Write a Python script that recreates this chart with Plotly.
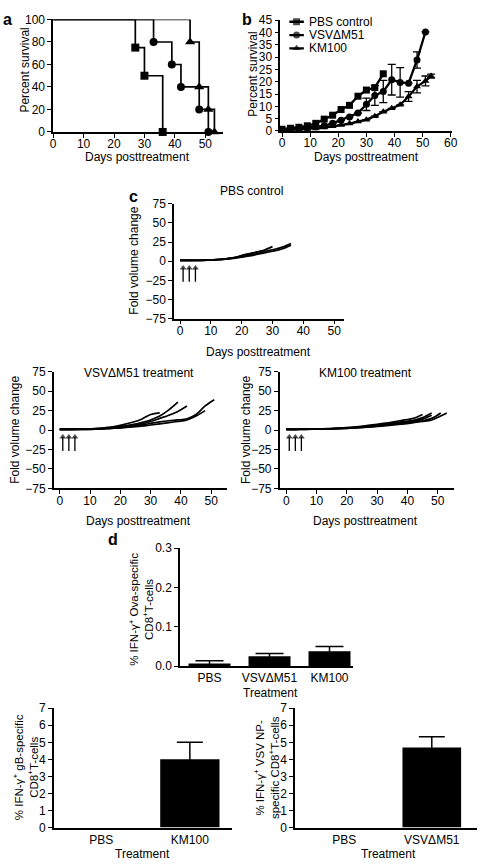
import plotly.graph_objects as go

W, H = 484, 868
FONT = "Liberation Sans, Arial, sans-serif"

# ---------------- data ----------------
# panel a: Kaplan-Meier survival
A_PBS_DAYS = [0, 27, 30, 36]
A_PBS_SURV = [100, 75, 50, 0]
A_VSV_DAYS = [0, 33, 39, 42, 48, 51]
A_VSV_SURV = [100, 80, 60, 40, 20, 0]
A_KM_DAYS = [0, 45, 48, 51, 53]
A_KM_SURV = [100, 80, 40, 20, 0]

# panel b: mean tumour growth
B_NAMES = ["PBS control", "VSVΔM51", "KM100"]
B_PBS_DAYS = [0, 3, 6, 9, 12, 15, 18, 21, 24, 27, 30, 33, 36]
B_PBS_VAL = [0.7, 1.1, 1.5, 2.1, 3.1, 4.8, 6.4, 8.7, 10.4, 14.1, 16.6, 17.6, 23.2]
B_VSV_DAYS = [0, 3, 6, 9, 12, 15, 18, 21, 24, 27, 30, 33, 36, 39, 42, 45, 48, 51]
B_VSV_VAL = [0.5, 0.8, 1.1, 1.3, 1.7, 2.1, 3.1, 4.4, 5.7, 7.3, 10.8, 14.4, 16.0, 20.8, 19.7, 19.4, 28.8, 40.2]
B_VSV_ERR = [0, 0, 0, 0, 0, 0, 0, 0, 0, 0, 2.5, 4.0, 4.5, 6.2, 6.0, 0, 3.3, 0]
B_KM_DAYS = [0, 3, 6, 9, 12, 15, 18, 21, 24, 27, 30, 33, 36, 39, 42, 45, 48, 51, 53]
B_KM_VAL = [0.3, 0.5, 0.6, 0.8, 1.0, 1.4, 1.9, 2.4, 3.0, 3.8, 4.6, 6.0, 7.8, 9.2, 10.6, 14.0, 18.0, 20.3, 22.3]
B_KM_ERR = [0, 0, 0, 0, 0, 0, 0, 0, 0, 0, 0, 0, 0, 0, 0, 2.0, 2.5, 2.0, 0.8]

# panel c: individual fold volume change curves
C_PBS = [
    ([0, 3, 6, 9, 12, 15, 18, 21, 24, 27], [1, 1, 1.1, 1.5, 2, 3, 5, 8, 11, 14]),
    ([0, 3, 6, 9, 12, 15, 18, 21, 24, 27, 30], [1, 1, 1.2, 1.6, 2.2, 3.2, 5, 8.5, 11, 14, 19]),
    ([0, 3, 6, 9, 12, 15, 18, 21, 24, 27, 30, 33, 36], [1, 1, 1.1, 1.4, 2, 3, 4.5, 6.5, 9, 12, 15, 18, 23]),
    ([0, 3, 6, 9, 12, 15, 18, 21, 24, 27, 30, 33, 36], [1, 1, 1.1, 1.3, 1.8, 2.6, 4, 6, 8, 10.5, 13, 16, 21]),
]
C_VSV = [
    ([0, 3, 6, 9, 12, 15, 18, 21, 24, 27, 30, 33], [1, 1, 1.1, 1.4, 2, 3, 4.5, 7, 10, 14, 20, 22]),
    ([0, 3, 6, 9, 12, 15, 18, 21, 24, 27, 30, 33, 36, 39], [1, 1, 1.1, 1.3, 1.8, 2.5, 3.5, 5, 7, 9.5, 13, 18, 26, 36]),
    ([0, 3, 6, 9, 12, 15, 18, 21, 24, 27, 30, 33, 36, 39, 42], [1, 1, 1, 1.2, 1.6, 2.2, 3, 4.5, 6, 8, 11, 15, 19, 24, 31]),
    ([0, 3, 6, 9, 12, 15, 18, 21, 24, 27, 30, 33, 36, 39, 42, 45, 48], [1, 1, 1, 1, 1.3, 1.7, 2.3, 3, 4, 5, 6.5, 8, 9.5, 11, 13, 18, 25]),
    ([0, 3, 6, 9, 12, 15, 18, 21, 24, 27, 30, 33, 36, 39, 42, 45, 48, 51], [1, 1, 1, 1, 1.3, 1.8, 2.5, 3.5, 5, 6.5, 8.5, 10.5, 12, 13, 14.5, 20, 31, 39]),
]
C_KM = [
    ([0, 3, 6, 9, 12, 15, 18, 21, 24, 27, 30, 33, 36, 39, 42, 45], [1, 1, 1.1, 1.3, 1.6, 2, 2.6, 3.4, 4.5, 6, 7.5, 9, 11, 13, 15, 20]),
    ([0, 3, 6, 9, 12, 15, 18, 21, 24, 27, 30, 33, 36, 39, 42, 45, 48], [1, 1, 1.1, 1.2, 1.5, 1.9, 2.4, 3, 4, 5, 6.5, 8, 9.5, 11, 12.5, 16, 22]),
    ([0, 3, 6, 9, 12, 15, 18, 21, 24, 27, 30, 33, 36, 39, 42, 45, 48], [1, 1, 1.1, 1.2, 1.4, 1.7, 2.2, 2.8, 3.6, 4.6, 5.8, 7, 8.5, 10, 11.5, 14, 19]),
    ([0, 3, 6, 9, 12, 15, 18, 21, 24, 27, 30, 33, 36, 39, 42, 45, 48, 51], [1, 1, 1, 1.1, 1.3, 1.6, 2, 2.5, 3.2, 4, 5, 6.2, 7.5, 9, 10.5, 12, 15, 22]),
    ([0, 3, 6, 9, 12, 15, 18, 21, 24, 27, 30, 33, 36, 39, 42, 45, 48, 51, 53], [1, 1, 1, 1.1, 1.2, 1.5, 1.9, 2.4, 3, 3.8, 4.6, 5.6, 6.8, 8, 9.5, 11, 13, 18, 22]),
]
ARROW_DAYS = [1, 3, 5]
ARROW_FROM, ARROW_TO = -27, -9

# panel d: bar charts
D_TOP_CATS = ["PBS", "VSVΔM51", "KM100"]
D_TOP_VAL = [0.007, 0.025, 0.038]
D_TOP_ERR = [0.007, 0.007, 0.012]
D_BL_CATS = ["PBS", "KM100"]
D_BL_VAL = [0, 4.0]
D_BL_ERR = [0, 1.0]
D_BR_CATS = ["PBS", "VSVΔM51"]
D_BR_VAL = [0, 4.7]
D_BR_ERR = [0, 0.62]

# ---------------- helpers ----------------
def xax(p0, v0, p1, v1, lo, hi):
    s = (v1 - v0) / (p1 - p0)
    return dict(domain=[lo / W, hi / W], range=[v0 + (lo - p0) * s, v0 + (hi - p0) * s])

def yax(p0, v0, p1, v1, top, bottom):
    s = (v1 - v0) / (p1 - p0)
    return dict(domain=[1 - bottom / H, 1 - top / H],
                range=[v0 + (bottom - p0) * s, v0 + (top - p0) * s])

AX = dict(showline=True, linecolor="black", linewidth=1.5, ticks="outside", ticklen=4,
          tickwidth=1.3, tickcolor="black", showgrid=False, zeroline=False,
          tickfont=dict(family=FONT, size=12, color="black"), fixedrange=True)
XS = dict(ticklabelstandoff=-4)

fig = go.Figure()

# panel a
for d, v, sym, ms in [(A_PBS_DAYS, A_PBS_SURV, "square", 8), (A_VSV_DAYS, A_VSV_SURV, "circle", 8),
                      (A_KM_DAYS, A_KM_SURV, "triangle-up", 9)]:
    fig.add_trace(go.Scatter(x=d, y=v, mode="lines", line=dict(color="black", width=1.7, shape="hv"),
                             showlegend=False, cliponaxis=False, xaxis="x", yaxis="y"))
    fig.add_trace(go.Scatter(x=d[1:], y=v[1:], mode="markers",
                             marker=dict(symbol=sym, size=ms, color="black", line=dict(width=0)),
                             showlegend=False, cliponaxis=False, xaxis="x", yaxis="y"))

# panel b
B_SERIES = [(B_PBS_DAYS, B_PBS_VAL, None, "square"),
            (B_VSV_DAYS, B_VSV_VAL, B_VSV_ERR, "circle"),
            (B_KM_DAYS, B_KM_VAL, B_KM_ERR, "triangle-up")]
for (d, v, e, sym), name in zip(B_SERIES, B_NAMES):
    fig.add_trace(go.Scatter(x=d, y=v, mode="lines+markers", name=name,
                             line=dict(color="black", width=2.3),
                             marker=dict(symbol=sym, size=7, color="black", line=dict(width=0)),
                             error_y=(dict(type="data", array=e, color="black", thickness=1.3, width=4)
                                      if e else None),
                             showlegend=False, cliponaxis=False, xaxis="x2", yaxis="y2"))
# key samples for panel b
for i, (d, v, e, sym) in enumerate(B_SERIES):
    fig.add_trace(go.Scatter(x=[0, 0.5, 1], y=[i + 0.5] * 3, mode="lines+markers",
                             line=dict(color="black", width=2.3),
                             marker=dict(symbol=sym, size=[0, 7, 0], color="black", line=dict(width=0)),
                             showlegend=False, hoverinfo="skip", xaxis="x9", yaxis="y9"))

# panel c
for group, xa, ya in [(C_PBS, "x3", "y3"), (C_VSV, "x4", "y4"), (C_KM, "x5", "y5")]:
    for d, v in group:
        fig.add_trace(go.Scatter(x=d, y=v, mode="lines", line=dict(color="black", width=1.7, shape="spline"),
                                 showlegend=False, xaxis=xa, yaxis=ya))
    for d in ARROW_DAYS:
        fig.add_trace(go.Scatter(x=[d, d], y=[ARROW_FROM, ARROW_TO], mode="lines+markers",
                                 line=dict(color="black", width=1.3),
                                 marker=dict(symbol="triangle-up", size=[0, 6], color="black", line=dict(width=0)),
                                 showlegend=False, hoverinfo="skip", xaxis=xa, yaxis=ya))

# panel d
for cats, vals, errs, xa, ya, ew, bw in [(D_TOP_CATS, D_TOP_VAL, D_TOP_ERR, "x6", "y6", 14, 0.7),
                                         (D_BL_CATS, D_BL_VAL, D_BL_ERR, "x7", "y7", 13, 0.67),
                                         (D_BR_CATS, D_BR_VAL, D_BR_ERR, "x8", "y8", 13, 0.67)]:
    fig.add_trace(go.Bar(x=cats, y=vals, marker=dict(color="black", line=dict(width=0)), width=bw,
                         showlegend=False, xaxis=xa, yaxis=ya))
    keep = [i for i, e in enumerate(errs) if e > 0]
    fig.add_trace(go.Scatter(x=[cats[i] for i in keep], y=[vals[i] for i in keep], mode="markers",
                             marker=dict(size=0.1, color="black"),
                             error_y=dict(type="data", array=[errs[i] for i in keep], color="black",
                                          thickness=1.5, width=ew),
                             showlegend=False, xaxis=xa, yaxis=ya))

layout = dict(width=W, height=H, margin=dict(l=0, r=0, t=0, b=0), paper_bgcolor="white",
              plot_bgcolor="rgba(0,0,0,0)", font=dict(family=FONT, size=12, color="black"),
              showlegend=False)

T6 = [0, 10, 20, 30, 40, 50]
TC = [-75, -50, -25, 0, 25, 50, 75]
layout["xaxis"] = dict(AX, **XS, **xax(51, 0, 205.7, 50, 51, 224), tickvals=T6, anchor="y")
layout["yaxis"] = dict(AX, **yax(127, 0, 12.7, 100, 12.7, 127), tickvals=[0, 20, 40, 60, 80, 100], anchor="x")
layout["xaxis2"] = dict(AX, **XS, **xax(283.7, 0, 455.3, 60, 282, 457), tickvals=T6 + [60], anchor="y2")
layout["yaxis2"] = dict(AX, **yax(126, 0, 13.3, 45, 13.3, 126), tickvals=list(range(0, 46, 5)), anchor="x2")
layout["xaxis3"] = dict(AX, **XS, **xax(180, 0, 336.7, 50, 174, 347), tickvals=T6, anchor="y3")
layout["yaxis3"] = dict(AX, **yax(316.7, -75, 200, 75, 200, 316.7), tickvals=TC, anchor="x3")
layout["xaxis4"] = dict(AX, **XS, **xax(57.7, 0, 211.7, 50, 51.7, 228), tickvals=T6, anchor="y4")
layout["yaxis4"] = dict(AX, **yax(489.3, -75, 370.7, 75, 370.7, 489.3), tickvals=TC, anchor="x4")
layout["xaxis5"] = dict(AX, **XS, **xax(288, 0, 442, 50, 281.3, 458.7), tickvals=T6, anchor="y5")
layout["yaxis5"] = dict(AX, **yax(489.3, -75, 370.7, 75, 370.7, 489.3), tickvals=TC, anchor="x5")
layout["xaxis6"] = dict(AX, **xax(210, 0, 271, 1, 180, 356), ticks="", type="category", anchor="y6")
layout["yaxis6"] = dict(AX, **yax(670, 0, 550, 0.3, 550, 670), tickvals=[0, 0.1, 0.2, 0.3], tickformat=".1f", anchor="x6")
layout["xaxis7"] = dict(AX, **xax(100, 0, 190, 1, 51.7, 233), ticks="", type="category", anchor="y7")
layout["yaxis7"] = dict(AX, **yax(834, 0, 712.7, 7, 712.7, 834), tickvals=list(range(0, 8)), anchor="x7")
layout["xaxis8"] = dict(AX, **xax(347, 0, 436, 1, 297, 482), ticks="", type="category", anchor="y8")
layout["yaxis8"] = dict(AX, **yax(834, 0, 712.7, 7, 712.7, 834), tickvals=list(range(0, 8)), anchor="x8")
# key box for panel b
layout["xaxis9"] = dict(domain=[291 / W, 306 / W], range=[0, 1], visible=False, fixedrange=True, anchor="y9")
layout["yaxis9"] = dict(domain=[1 - 48.75 / H, 1 - 8.25 / H], range=[3, 0], visible=False, fixedrange=True, anchor="x9")

ann = []
def txt(x, y, s, size=12, angle=0, bold=False, xanchor="center"):
    ann.append(dict(x=x / W, y=1 - y / H, xref="paper", yref="paper", text=("<b>%s</b>" % s) if bold else s,
                    showarrow=False, textangle=angle, xanchor=xanchor, yanchor="middle",
                    font=dict(family=FONT, size=size, color="black")))

# panel letters
txt(5, 13, "a", 16, bold=True)
txt(248, 13, "b", 16, bold=True)
txt(133, 193, "c", 16, bold=True)
txt(112, 541, "d", 16, bold=True)

# key texts for panel b
for i, name in enumerate(B_NAMES):
    txt(309, 15 + 13.5 * i, name, 12, xanchor="left")

# axis titles
txt(22, 64, "Percent survival", 12, -90)
txt(137, 152, "Days posttreatment", 12)
txt(254, 68, "Percent survival", 12, -90)
txt(370, 152, "Days posttreatment", 12)
txt(253, 187, "PBS control", 12)
txt(133, 258, "Fold volume change", 12, -90)
txt(260, 351, "Days posttreatment", 12)
txt(138, 372, "VSVΔM51 treatment", 12)
txt(12, 430, "Fold volume change", 12, -90)
txt(138, 522, "Days posttreatment", 12)
txt(369, 372, "KM100 treatment", 12)
txt(247, 430, "Fold volume change", 12, -90)
txt(369, 522, "Days posttreatment", 12)
txt(140, 612, "% IFN-γ<sup>+</sup> Ova-specific<br>CD8<sup>+</sup>T-cells", 11.5, -90)
txt(272, 697, "Treatment", 12)
txt(23, 773, "% IFN-γ<sup>+</sup> gB-specific<br>CD8<sup>+</sup>T-cells", 11.5, -90)
txt(142, 861, "Treatment", 12)
txt(268, 773, "% IFN-γ<sup>+</sup> VSV NP-<br>specific CD8<sup>+</sup>T-cells", 11.5, -90)
txt(392, 861, "Treatment", 12)

layout["annotations"] = ann
fig.update_layout(**layout)
fig.write_html("out.html", config={"displayModeBar": False},
               post_script="document.body.style.margin='0px';")
